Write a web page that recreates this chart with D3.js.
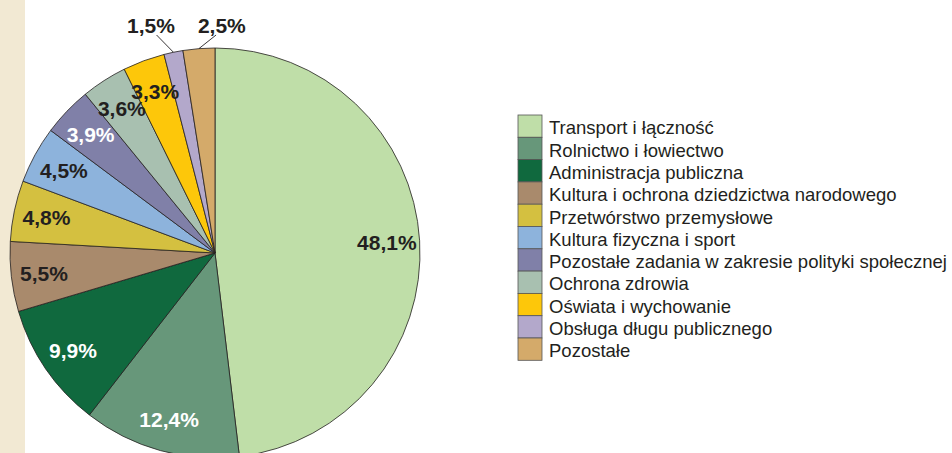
<!DOCTYPE html>
<html>
<head>
<meta charset="utf-8">
<script src="https://cdn.jsdelivr.net/npm/d3@7"></script>
<style>
  html, body { margin: 0; padding: 0; background: #ffffff; }
  svg { display: block; }
</style>
</head>
<body>
<svg id="chart" width="952" height="453"></svg>
<script>
// ---- data ----
const categories = [
  "Transport i łączność",
  "Rolnictwo i łowiectwo",
  "Administracja publiczna",
  "Kultura i ochrona dziedzictwa narodowego",
  "Przetwórstwo przemysłowe",
  "Kultura fizyczna i sport",
  "Pozostałe zadania w zakresie polityki społecznej",
  "Ochrona zdrowia",
  "Oświata i wychowanie",
  "Obsługa długu publicznego",
  "Pozostałe"
];
const values = [48.1, 12.4, 9.9, 5.5, 4.8, 4.5, 3.9, 3.6, 3.3, 1.5, 2.5];
const valueLabels = ["48,1%", "12,4%", "9,9%", "5,5%", "4,8%", "4,5%", "3,9%", "3,6%", "3,3%", "1,5%", "2,5%"];

// ---- styles ----
const colors = ["#bfdea8", "#67977a", "#10693e", "#a98a6c", "#d4c040", "#8db3dc",
                "#8080a8", "#a8c0b0", "#fdc70a", "#b3a8cb", "#d4aa6a"];
const labelColors = ["#231f20", "#ffffff", "#ffffff", "#231f20", "#231f20", "#231f20",
                     "#ffffff", "#231f20", "#231f20", "#231f20", "#231f20"];
const outsideIdx = new Set([9, 10]);
const outsideDx = {9: -17, 10: 25};

const svg = d3.select("#chart");
const W = 952, H = 453;

// beige left band
svg.append("rect").attr("x", 0).attr("y", 0).attr("width", 25).attr("height", H).attr("fill", "#f2e9d3");

const cx = 215, cy = 253, r = 205;
const g = svg.append("g").attr("transform", `translate(${cx},${cy})`);

const pie = d3.pie().sort(null).value(d => d).startAngle(0).endAngle(2 * Math.PI);
const arcs = pie(values);
const arc = d3.arc().innerRadius(0).outerRadius(r);
const labelArc = d3.arc().innerRadius(r * 0.84).outerRadius(r * 0.84);

g.selectAll("path.slice").data(arcs).enter().append("path")
  .attr("class", "slice")
  .attr("d", arc)
  .attr("fill", (d, i) => colors[i])
  .attr("stroke", "#231f20")
  .attr("stroke-width", 0.8)
  .attr("stroke-linejoin", "round");

const fontFam = "'Liberation Sans', Arial, Helvetica, sans-serif";

// inside labels
arcs.forEach((d, i) => {
  if (outsideIdx.has(i)) return;
  const [x, y] = labelArc.centroid(d);
  g.append("text")
    .attr("x", x).attr("y", y)
    .attr("text-anchor", "middle")
    .attr("dy", "0.36em")
    .attr("font-family", fontFam)
    .attr("font-weight", "bold")
    .attr("font-size", 21)
    .attr("fill", labelColors[i])
    .text(valueLabels[i]);
});

// outside labels with leader lines
arcs.forEach((d, i) => {
  if (!outsideIdx.has(i)) return;
  const mid = (d.startAngle + d.endAngle) / 2;
  const ex = r * Math.sin(mid), ey = -r * Math.cos(mid);
  const lx = 232 * Math.sin(mid) + outsideDx[i];
  const baseY = -r - 15;
  g.append("text")
    .attr("x", lx).attr("y", baseY)
    .attr("text-anchor", "middle")
    .attr("font-family", fontFam)
    .attr("font-weight", "bold")
    .attr("font-size", 21)
    .attr("fill", labelColors[i])
    .text(valueLabels[i]);
  const tx = lx + (ex - lx) * 0.25;
  g.append("line")
    .attr("x1", ex).attr("y1", ey)
    .attr("x2", tx).attr("y2", baseY + 2)
    .attr("stroke", "#231f20").attr("stroke-width", 0.9);
});

// legend
const legX = 518, legY = 115, rowH = 22.3, swW = 24;
const leg = svg.append("g");
categories.forEach((c, i) => {
  leg.append("rect")
    .attr("x", legX).attr("y", legY + i * rowH)
    .attr("width", swW).attr("height", rowH)
    .attr("fill", colors[i])
    .attr("stroke", "#555555").attr("stroke-width", 0.8);
  leg.append("text")
    .attr("x", legX + 31).attr("y", legY + (i + 1) * rowH - 3)
    .attr("font-family", fontFam)
    .attr("font-size", 18.5)
    .attr("fill", "#231f20")
    .text(c);
});
</script>
</body>
</html>
